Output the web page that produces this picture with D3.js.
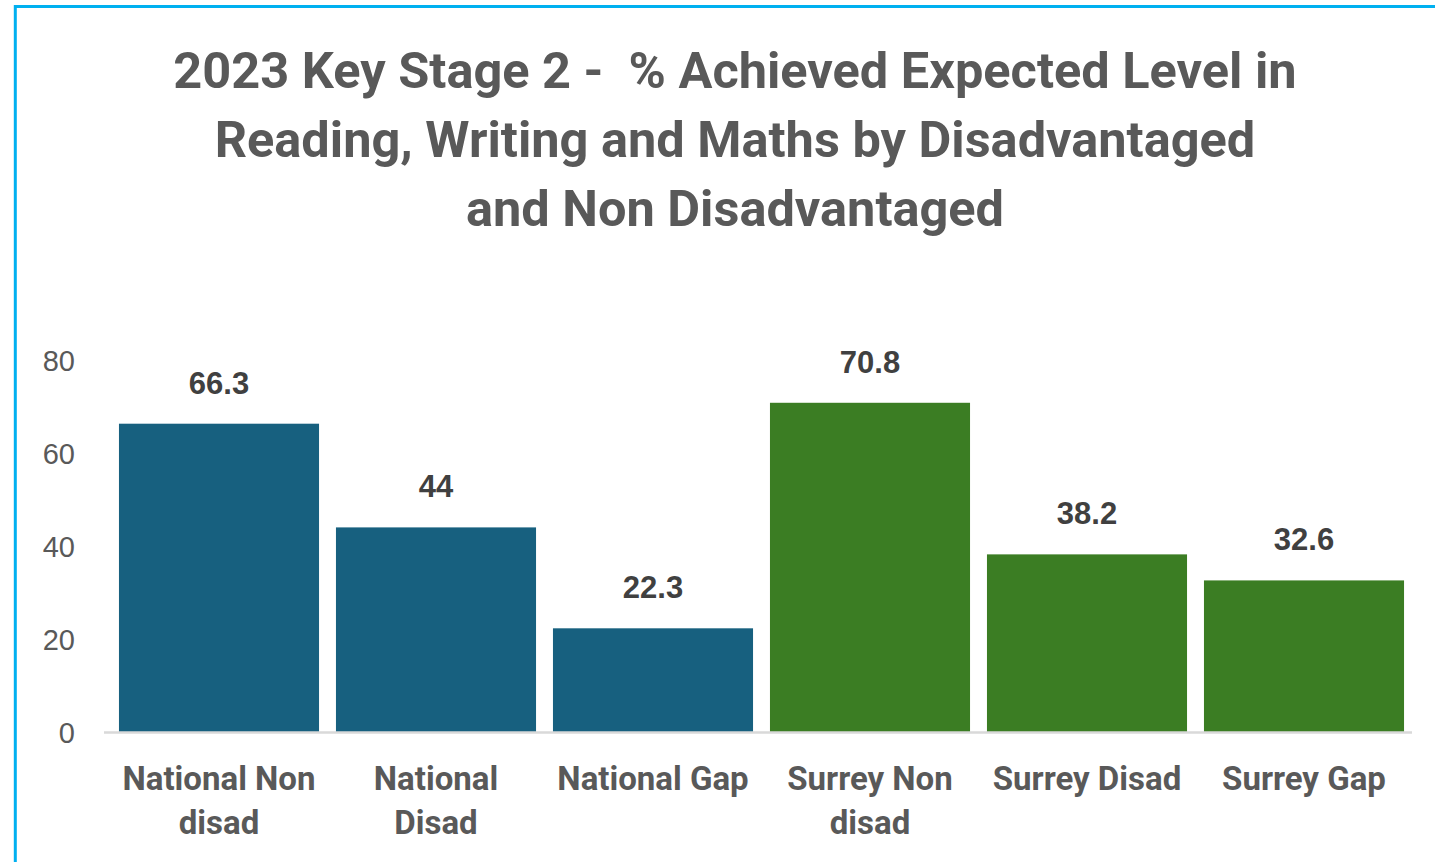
<!DOCTYPE html>
<html>
<head>
<meta charset="utf-8">
<script src="https://cdn.jsdelivr.net/npm/d3@7"></script>
<style>
html,body{margin:0;padding:0;background:#fff;}
svg{display:block;}
</style>
</head>
<body>
<svg id="chart" width="1435" height="862"></svg>
<script>
const titleLines = ["2023 Key Stage 2 -  % Achieved Expected Level in", "Reading, Writing and Maths by Disadvantaged", "and Non Disadvantaged"];
const categories = ["National Non disad", "National Disad", "National Gap", "Surrey Non disad", "Surrey Disad", "Surrey Gap"];
const categoryLabelLines = [["National Non", "disad"], ["National", "Disad"], ["National Gap"], ["Surrey Non", "disad"], ["Surrey Disad"], ["Surrey Gap"]];
const values = [66.3, 44, 22.3, 70.8, 38.2, 32.6];
const valueLabels = ["66.3", "44", "22.3", "70.8", "38.2", "32.6"];
const groups = ["National", "National", "National", "Surrey", "Surrey", "Surrey"];
const yTicks = [0, 20, 40, 60, 80];

const svg = d3.select("#chart");
const W = 1435, H = 862;

// frame border
svg.append("rect").attr("x", 15.3).attr("y", 6.5).attr("width", W + 20).attr("height", H + 20)
  .attr("fill", "none").attr("stroke", "#00B0F0").attr("stroke-width", 3);

// title
const title = svg.append("text").attr("text-anchor", "middle")
  .style("white-space", "pre")
  .attr("font-family", "Roboto, 'Liberation Sans', sans-serif").attr("font-weight", "bold")
  .attr("font-size", 50.5).attr("fill", "#595959");
titleLines.forEach((t, i) => {
  title.append("tspan").attr("x", 735).attr("y", 88 + i * 69).text(t);
});

const x = d3.scaleBand().domain(categories).range([110.5, 1412.5]).paddingInner(0.078).paddingOuter(0.039);
const y = d3.scaleLinear().domain([0, 80]).range([732, 360]);
const color = d3.scaleOrdinal().domain(["National", "Surrey"]).range(["#17607F", "#3B7D23"]);

// bars
svg.append("g").selectAll("rect").data(categories).join("rect")
  .attr("x", d => x(d))
  .attr("y", (d, i) => y(values[i]))
  .attr("width", x.bandwidth())
  .attr("height", (d, i) => y(0) - y(values[i]))
  .attr("fill", (d, i) => color(groups[i]));

// baseline
svg.append("line").attr("x1", 104).attr("x2", 1412).attr("y1", y(0) + 0.5).attr("y2", y(0) + 0.5)
  .attr("stroke", "#D9D9D9").attr("stroke-width", 2.5);

// y axis labels
const yAxis = d3.axisLeft(y).tickValues(yTicks).tickSize(0).tickPadding(0);
const yg = svg.append("g").attr("transform", "translate(75,0)").call(yAxis);
yg.select(".domain").remove();
yg.selectAll("text").attr("font-family", "'Liberation Sans', Arial, sans-serif")
  .attr("font-size", 29).attr("fill", "#595959").attr("dy", "0.36em");

// data labels
svg.append("g").selectAll("text").data(categories).join("text")
  .attr("x", d => x(d) + x.bandwidth() / 2)
  .attr("y", (d, i) => y(values[i]) - 30)
  .attr("text-anchor", "middle")
  .attr("font-family", "'Liberation Sans', Arial, sans-serif").attr("font-weight", "bold")
  .attr("font-size", 31).attr("fill", "#404040")
  .text((d, i) => valueLabels[i]);

// category labels
const cl = svg.append("g").selectAll("text").data(categories).join("text")
  .attr("text-anchor", "middle")
  .attr("font-family", "Roboto, sans-serif").attr("font-weight", "bold")
  .attr("font-size", 33).attr("fill", "#595959");
cl.each(function(d, i) {
  const t = d3.select(this);
  categoryLabelLines[i].forEach((line, j) => {
    t.append("tspan").attr("x", x(d) + x.bandwidth() / 2).attr("y", 790 + j * 44).text(line);
  });
});
</script>
</body>
</html>
